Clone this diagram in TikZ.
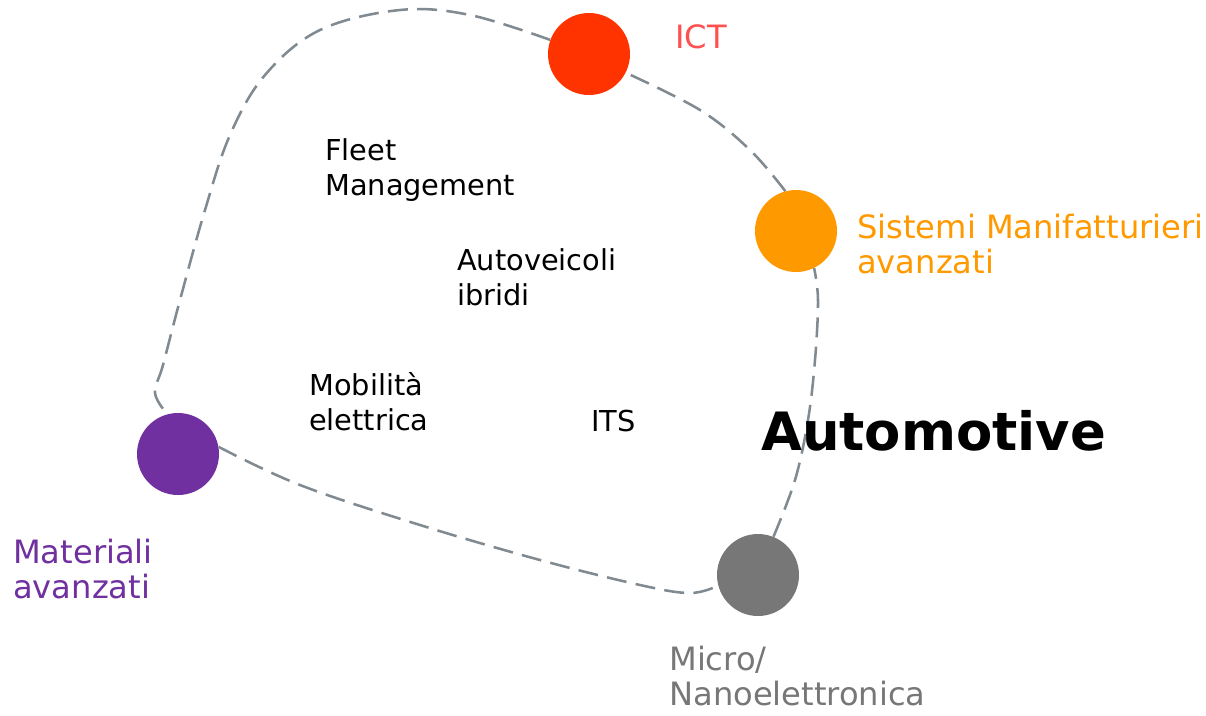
\documentclass[tikz,border=0pt]{standalone}
\usepackage{fontspec}
\setmainfont{DejaVu Sans}
\definecolor{ictc}{HTML}{FF3300}
\definecolor{ictt}{HTML}{FF5050}
\definecolor{orc}{HTML}{FF9900}
\definecolor{puc}{HTML}{7030A0}
\definecolor{grc}{HTML}{777777}
\definecolor{linec}{HTML}{808A90}
\tikzset{
  dot/.style={circle, fill=#1, draw=none, minimum size=61.5pt, inner sep=0pt},
  lbl/.style={anchor=base west, inner sep=0pt, align=left, text=#1, font=\fontsize{24.1pt}{26.25pt}\selectfont},
  inner/.style={anchor=base west, inner sep=0pt, align=left, font=\fontsize{21.6pt}{26.25pt}\selectfont},
  loop/.style={draw=linec, line width=1.9pt, dash pattern=on 15pt off 7pt}
}
\begin{document}
\begin{tikzpicture}[x=0.75pt, y=-0.75pt]
\useasboundingbox (0,0) rectangle (1206,715);
% circles
\node[dot=ictc] (ict) at (589,54) {};
\node[dot=orc] (sis) at (796,231) {};
\node[dot=puc] (mat) at (178,454) {};
\node[dot=grc] (mic) at (758,575) {};
% loop
\draw[loop] plot[smooth, tension=0.6] coordinates {(ict.160) (470,15) (400,10) (320,30) (265,75) (230,135) (205,210) (180,300) (163,365) (155,393) (mat.105)};
\draw[loop] plot[smooth, tension=0.6] coordinates {(mat.10) (300,485) (420,525) (540,560) (640,585) (690,593) (mic.195)};
\draw[loop] plot[smooth, tension=0.6] coordinates {(mic.68) (795,480) (808,420) (815,360) (818,300) (sis.296)};
\draw[loop] plot[smooth, tension=0.6] coordinates {(sis.105) (750,150) (700,110) (ict.-27)};
% labels (base = last line baseline)
\node[lbl=ictt] (ictl) at (675,48) {ICT};
\node[lbl=orc] (sisl) at (857,273) {Sistemi Manifatturieri\\avanzati};
\node[lbl=puc] (matl) at (13,598) {Materiali\\avanzati};
\node[lbl=grc] (micl) at (669,705) {Micro/\\Nanoelettronica};
\node[inner] (fleet) at (325,195) {Fleet\\Management};
\node[inner] (auto) at (457,305) {Autoveicoli\\ibridi};
\node[inner] (mob) at (309,430) {Mobilità\\elettrica};
\node[inner] (its) at (591,431) {ITS};
\node[anchor=base west, inner sep=0pt, font=\fontsize{39.6pt}{44pt}\selectfont\bfseries] (am) at (761,450) {Automotive};
\end{tikzpicture}
\end{document}
